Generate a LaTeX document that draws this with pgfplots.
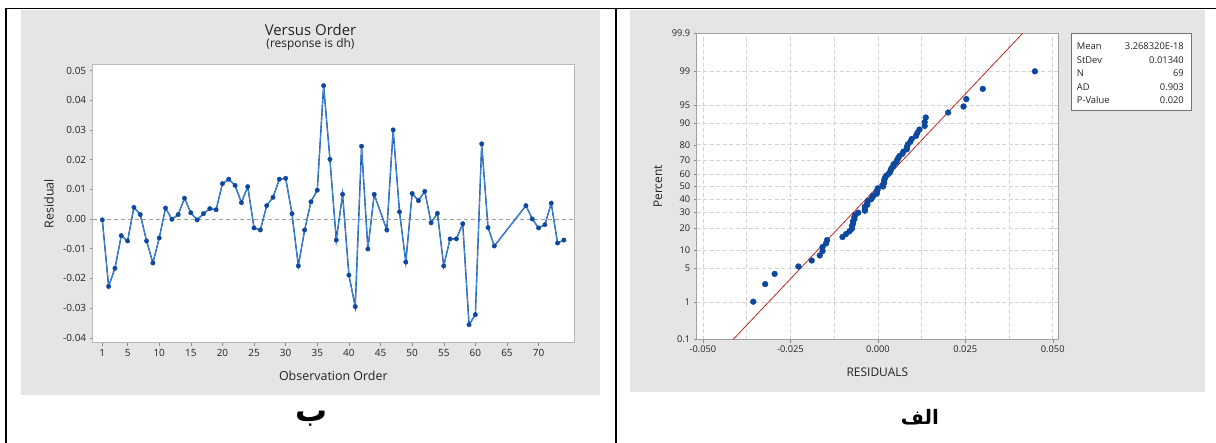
\documentclass[border=0pt]{standalone}
\usepackage{fontspec}
\setmainfont{Open Sans}
\newfontfamily\arabicfont[Script=Arabic]{DejaVu Sans}
\TeXXeTstate=1
\usepackage{pgfplots}
\usepackage{pgfplotstable}
\pgfplotsset{compat=1.18}
\definecolor{panelgray}{RGB}{229,229,229}
\definecolor{framegray}{RGB}{185,185,185}
\definecolor{frame2}{RGB}{160,160,160}
\definecolor{txtgray}{RGB}{35,35,35}
\definecolor{mtblue}{RGB}{12,72,158}
\definecolor{mtlight}{RGB}{75,155,235}
\definecolor{fitred}{RGB}{192,40,36}
\definecolor{gridgray}{RGB}{212,212,212}

\pgfplotstableread{
n r
1 -0.0003
2 -0.0227
3 -0.0166
4 -0.0056
5 -0.0074
6 0.0039
7 0.0015
8 -0.0074
9 -0.0148
10 -0.0064
11 0.0037
12 -0.0001
13 0.0015
14 0.0070
15 0.0021
16 -0.0003
17 0.0018
18 0.0035
19 0.0031
20 0.0119
21 0.0134
22 0.0113
23 0.0055
24 0.0109
25 -0.0030
26 -0.0037
27 0.0045
28 0.0073
29 0.0134
30 0.0137
31 0.0018
32 -0.0158
33 -0.0037
34 0.0058
35 0.0097
36 0.0449
37 0.0201
38 -0.0071
39 0.0083
40 -0.0189
41 -0.0295
42 0.0245
43 -0.0101
44 0.0083
46 -0.0037
47 0.0300
48 0.0024
49 -0.0145
50 0.0086
51 0.0062
52 0.0093
53 -0.0013
54 0.0019
55 -0.0158
56 -0.0067
57 -0.0067
58 -0.0016
59 -0.0356
60 -0.0322
61 0.0253
62 -0.0029
63 -0.0091
68 0.0045
69 0.0000
70 -0.0030
71 -0.0019
72 0.0053
73 -0.0081
74 -0.0071
}\orderdata

\pgfplotstableread{
r z
-0.0356 -2.323
-0.0322 -1.969
-0.0295 -1.763
-0.0227 -1.613
-0.0189 -1.493
-0.0166 -1.391
-0.0158 -1.301
-0.0158 -1.221
-0.0148 -1.149
-0.0145 -1.081
-0.0101 -1.019
-0.0091 -0.960
-0.0081 -0.904
-0.0074 -0.851
-0.0074 -0.800
-0.0071 -0.751
-0.0071 -0.704
-0.0067 -0.659
-0.0067 -0.615
-0.0064 -0.571
-0.0056 -0.529
-0.0037 -0.488
-0.0037 -0.448
-0.0037 -0.408
-0.0030 -0.369
-0.0030 -0.331
-0.0029 -0.293
-0.0019 -0.256
-0.0016 -0.218
-0.0013 -0.182
-0.0003 -0.145
-0.0003 -0.109
-0.0001 -0.072
0.0000 -0.036
0.0015 0.000
0.0015 0.036
0.0018 0.072
0.0018 0.109
0.0019 0.145
0.0021 0.182
0.0024 0.218
0.0031 0.256
0.0035 0.293
0.0037 0.331
0.0039 0.369
0.0045 0.408
0.0045 0.448
0.0053 0.488
0.0055 0.529
0.0058 0.571
0.0062 0.615
0.0070 0.659
0.0073 0.704
0.0083 0.751
0.0083 0.800
0.0086 0.851
0.0093 0.904
0.0097 0.960
0.0109 1.019
0.0113 1.081
0.0119 1.149
0.0134 1.221
0.0134 1.301
0.0137 1.391
0.0201 1.493
0.0245 1.613
0.0253 1.763
0.0300 1.969
0.0449 2.323
}\probdata

\begin{document}
\begin{tikzpicture}
\path[use as bounding box] (0bp,0bp) rectangle (1216bp,443bp);
\fill[panelgray] (21bp,48bp) rectangle (600bp,433bp);
\fill[panelgray] (630bp,51bp) rectangle (1205bp,433bp);
\draw[line width=1.4bp] (6bp,0bp) -- (6bp,434.7bp) -- (1216bp,434.7bp);
\draw[line width=1.4bp] (616bp,0bp) -- (616bp,434.7bp);

\node[font=\fontsize{15}{17}\selectfont, text=txtgray] at (310.5bp,413bp) {Versus Order};
\node[font=\fontsize{12}{14}\selectfont, text=txtgray] at (310.5bp,399bp) {(response is dh)};

\begin{axis}[
  at={(92.7bp,100.3bp)}, anchor=south west,
  scale only axis, width=481.3bp, height=278bp,
  xmin=-0.52, xmax=75.6, ymin=-0.04165, ymax=0.05195,
  scaled ticks=false,
  axis background/.style={fill=white},
  axis line style={framegray, line width=0.8bp},
  tick align=outside, major tick length=3bp,
  tick style={black!45, line width=0.5bp},
  xtick pos=left, ytick pos=left,
  xtick={1,5,10,15,20,25,30,35,40,45,50,55,60,65,70},
  xticklabels={1,5,10,15,20,25,30,35,40,45,50,55,60,65,70},
  ytick={-0.04,-0.03,-0.02,-0.01,0,0.01,0.02,0.03,0.04,0.05},
  yticklabels={-0.04,-0.03,-0.02,-0.01,0.00,0.01,0.02,0.03,0.04,0.05},
  ticklabel style={font=\fontsize{10}{11}\selectfont, text=txtgray},
  xlabel={Observation Order}, ylabel={Residual},
  label style={font=\fontsize{12.5}{14}\selectfont, text=txtgray},
  xlabel style={at={(axis description cs:0.5,-0.1198)}, anchor=center},
  ylabel style={at={(axis description cs:-0.0908,0.5)}, anchor=center},
]
\addplot[gray!75, dash pattern=on 4bp off 3bp, line width=0.7bp, forget plot] coordinates {(-0.52,0) (75.6,0)};
\addplot[mtblue, line width=1.4bp] table[x=n,y=r]{\orderdata};
\addplot[mtlight, line width=0.6bp] table[x=n,y=r]{\orderdata};
\addplot[only marks, mark=*, mark size=2.2bp, color=mtblue] table[x=n,y=r]{\orderdata};
\end{axis}

\begin{axis}[
  at={(696.7bp,103.3bp)}, anchor=south west,
  scale only axis, width=361.3bp, height=306.4bp,
  xmin=-0.05177, xmax=0.0515, ymin=-3.0902, ymax=3.0902,
  scaled ticks=false,
  axis background/.style={fill=white},
  axis line style={frame2, line width=0.8bp},
  tick align=outside, major tick length=3bp, minor tick length=0bp,
  tick style={black!45, line width=0.5bp},
  xtick pos=left, ytick pos=left,
  xtick={-0.05,-0.025,0,0.025,0.05},
  xticklabels={-0.050,-0.025,0.000,0.025,0.050},
  minor xtick={-0.0375,-0.0125,0.0125,0.0375},
  ytick={-3.0902,-2.3263,-1.6449,-1.2816,-0.8416,-0.5244,-0.2533,0,0.2533,0.5244,0.8416,1.2816,1.6449,2.3263,3.0902},
  yticklabels={0.1,1,5,10,20,30,40,50,60,70,80,90,95,99,99.9},
  grid=both,
  major grid style={gridgray, dash pattern=on 4bp off 2.5bp, line width=0.6bp},
  minor grid style={gridgray, dash pattern=on 4bp off 2.5bp, line width=0.6bp},
  ticklabel style={font=\fontsize{9.3}{10}\selectfont, text=txtgray},
  xlabel={RESIDUALS}, ylabel={Percent},
  label style={font=\fontsize{12}{14}\selectfont, text=txtgray},
  xlabel style={at={(axis description cs:0.5,-0.1054)}, anchor=center},
  ylabel style={at={(axis description cs:-0.1071,0.5)}, anchor=center},
]
\addplot[fitred, line width=0.8bp] coordinates {(-0.04141,-3.0902) (0.04141,3.0902)};
\addplot[only marks, mark=*, mark size=2.9bp, color=mtblue] table[x=r,y=z]{\probdata};
\end{axis}

\draw[black!55, fill=white, line width=0.6bp] (1071.7bp,333bp) rectangle (1191.7bp,409.7bp);
\begin{scope}[every node/.style={inner sep=0pt, font=\fontsize{9.4}{10}\selectfont, text=txtgray, text height=6.7bp, text depth=0bp}]
\node[anchor=west] at (1076.7bp,397.3bp) {Mean};
\node[anchor=east] at (1184bp,397.3bp) {3.268320E-18};
\node[anchor=west] at (1076.7bp,383bp) {StDev};
\node[anchor=east] at (1184bp,383bp) {0.01340};
\node[anchor=west] at (1076.7bp,369.7bp) {N};
\node[anchor=east] at (1184bp,369.7bp) {69};
\node[anchor=west] at (1076.7bp,356.3bp) {AD};
\node[anchor=east] at (1184bp,356.3bp) {0.903};
\node[anchor=west] at (1076.7bp,343bp) {P-Value};
\node[anchor=east] at (1184bp,343bp) {0.020};
\end{scope}

\node[font=\arabicfont\bfseries\fontsize{32}{36}\selectfont] at (312bp,24bp) {\beginR ب\endR};
\node[font=\arabicfont\bfseries\fontsize{20}{24}\selectfont] at (920bp,26bp) {\beginR الف\endR};
\end{tikzpicture}
\end{document}
